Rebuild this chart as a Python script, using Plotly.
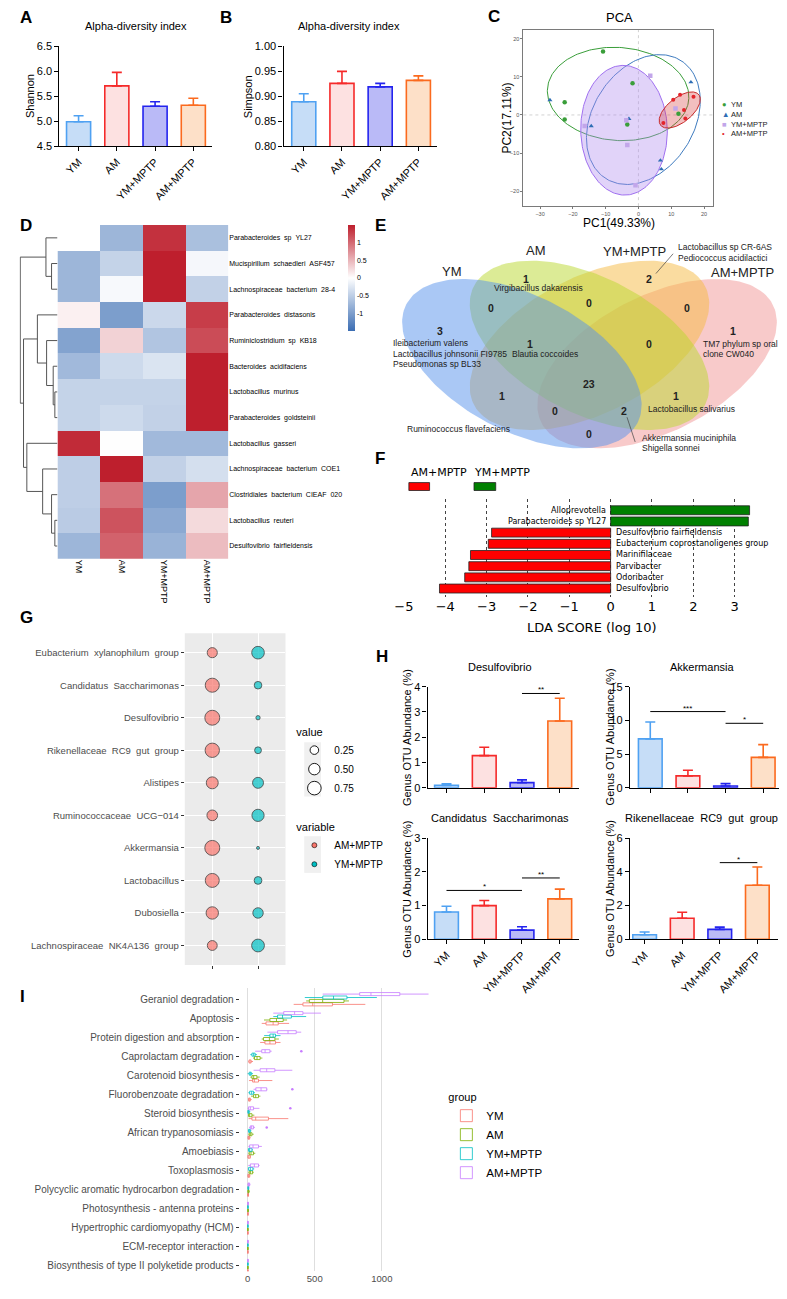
import numpy as np
import plotly.graph_objects as go

W, H = 787, 1299          # browser window
OFF = 8                   # default body margin of the page
PW, PH = W - 2 * OFF, H - 2 * OFF   # figure size that fits the window exactly
ARIAL = "Liberation Sans, Arial, sans-serif"
DEJAVU = "DejaVu Sans, sans-serif"

# ======================= DATA =======================
groups = ["YM", "AM", "YM+MPTP", "AM+MPTP"]

# A / B alpha diversity
shannon_mean = [4.99, 5.71, 5.30, 5.32]
shannon_err = [0.12, 0.27, 0.09, 0.14]
simpson_mean = [0.889, 0.926, 0.919, 0.932]
simpson_err = [0.016, 0.024, 0.007, 0.009]

# C PCA
pca_ym_x = [-10.8, -22.5, -22.5, -1.8, -3.4, 12.2]
pca_ym_y = [16.6, 3.3, -1.2, 8.3, -2.5, 0.3]
pca_am_x = [-27.0, -14.4, -2.9, 16.0, 6.7, 7.0]
pca_am_y = [3.9, -2.9, -1.0, 8.6, -11.9, -14.2]
pca_ymm_x = [3.6, -16.4, -3.7, -3.4, -0.9, 11.3]
pca_ymm_y = [10.3, -2.9, -1.4, -7.9, -18.4, 1.7]
pca_amm_x = [10.6, 12.7, 16.8, 13.9, 14.3, 7.6]
pca_amm_y = [4.0, 5.3, 4.8, 1.3, -0.9, -2.1]
# confidence ellipses: centre x, centre y, semi-major, semi-minor, angle (deg)
pca_ellipses = [(-6.2, 5.5, 21.6, 12.2, -3), (1.5, -1.2, 19.5, 14.5, 43),
                (-4.4, -4.0, 17.0, 13.2, 92), (12.6, 1.3, 7.1, 3.4, 32)]

# D heatmap
heat_rows = ["Parabacteroides sp YL27", "Mucispirillum schaedleri ASF457",
             "Lachnospiraceae bacterium 28-4", "Parabacteroides distasonis",
             "Ruminiclostridium sp KB18", "Bacteroides acidifaciens",
             "Lactobacillus murinus", "Parabacteroides goldsteinii",
             "Lactobacillus gasseri", "Lachnospiraceae bacterium COE1",
             "Clostridiales bacterium CIEAF 020", "Lactobacillus reuteri",
             "Desulfovibrio fairfieldensis"]
heat_z = [[0.00, -0.75, 1.38, -0.65],
          [-0.75, -0.45, 1.50, -0.08],
          [-0.75, -0.06, 1.50, -0.47],
          [0.10, -1.00, -0.40, 1.30],
          [-0.95, 0.30, -0.60, 1.20],
          [-0.72, -0.38, -0.28, 1.50],
          [-0.45, -0.45, -0.45, 1.50],
          [-0.45, -0.38, -0.47, 1.50],
          [1.42, -0.01, -0.72, -0.72],
          [-0.50, 1.50, -0.47, -0.33],
          [-0.50, 0.95, -1.00, 0.60],
          [-0.53, 1.15, -0.88, 0.25],
          [-0.75, 1.05, -0.78, 0.45]]
# hierarchical clustering merges: (node a, node b, height)
dend_merges = [(1, 2, 18), (0, 13, 35), (6, 7, 8), (5, 15, 13), (4, 16, 33),
               (3, 17, 61), (11, 12, 8), (10, 19, 18), (9, 20, 45), (8, 21, 93),
               (18, 22, 103), (14, 23, 113)]

# E Venn
venn_counts = [1, 2, 0, 0, 0, 3, 1, 1, 0, 23, 1, 1, 0, 2, 0]
venn_species = ["Virgibacillus dakarensis", "Lactobacillus sp CR-6AS", "Pediococcus acidilactici",
                "Ileibacterium valens", "Lactobacillus johnsonii FI9785", "Pseudomonas sp BL33",
                "Blautia coccoides", "TM7 phylum sp oral", "clone CW040",
                "Ruminococcus flavefaciens", "Lactobacillus salivarius",
                "Akkermansia muciniphila", "Shigella sonnei"]

# F LEfSe
lda_names = ["Alloprevotella", "Parabacteroides sp YL27", "Desulfovibrio fairfieldensis",
             "Eubacterium coprostanoligenes group", "Marinifilaceae", "Parvibacter",
             "Odoribacter", "Desulfovibrio"]
lda_scores = [3.36, 3.33, -2.88, -2.96, -3.39, -3.43, -3.53, -4.14]
lda_class = ["YM+MPTP", "YM+MPTP", "AM+MPTP", "AM+MPTP", "AM+MPTP", "AM+MPTP", "AM+MPTP", "AM+MPTP"]

# G dot plot
dot_genera = ["Eubacterium xylanophilum group", "Candidatus Saccharimonas", "Desulfovibrio",
              "Rikenellaceae RC9 gut group", "Alistipes", "Ruminococcaceae UCG\u2212014",
              "Akkermansia", "Lactobacillus", "Dubosiella", "Lachnospiraceae NK4A136 group"]
dot_am_mptp = [0.37, 0.81, 0.93, 0.85, 0.55, 0.42, 0.94, 0.80, 0.60, 0.35]
dot_ym_mptp = [0.63, 0.19, 0.07, 0.15, 0.45, 0.58, 0.06, 0.20, 0.40, 0.65]
dot_legend_vals = [0.25, 0.50, 0.75]

# H genus abundance
h_titles = ["Desulfovibrio", "Akkermansia", "Candidatus Saccharimonas", "Rikenellaceae RC9 gut group"]
h_means = [[0.09, 1.27, 0.20, 2.64], [7.25, 1.76, 0.25, 4.50],
           [0.81, 1.00, 0.27, 1.20], [0.27, 1.25, 0.59, 3.21]]
h_errs = [[0.06, 0.33, 0.11, 0.90], [2.50, 0.84, 0.35, 1.90],
          [0.17, 0.15, 0.10, 0.29], [0.16, 0.35, 0.13, 1.08]]
h_sig = [(0, 2, 3, 3.73, "**"), (1, 0, 2, 11.3, "***"), (1, 2, 3, 9.56, "*"),
         (2, 0, 2, 1.45, "*"), (2, 2, 3, 1.82, "**"), (3, 2, 3, 4.55, "*")]

# I KEGG pathways (lower whisker, q1, median, q3, upper whisker)
pathways = ["Geraniol degradation", "Apoptosis", "Protein digestion and absorption",
            "Caprolactam degradation", "Carotenoid biosynthesis", "Fluorobenzoate degradation",
            "Steroid biosynthesis", "African trypanosomiasis", "Amoebiasis", "Toxoplasmosis",
            "Polycyclic aromatic hydrocarbon degradation", "Photosynthesis - antenna proteins",
            "Hypertrophic cardiomyopathy (HCM)", "ECM-receptor interaction",
            "Biosynthesis of type II polyketide products"]
box_ym = [(343, 412, 485, 632, 877), (105, 137, 190, 228, 309), (93, 129, 166, 208, 245),
          (5, 10, 18, 26, 40), (10, 37, 50, 81, 184), (3, 7, 12, 20, 30), (7, 32, 60, 155, 303),
          (1, 3, 8, 15, 22), (1, 2, 8, 20, 25), (0, 2, 6, 15, 20), (0, 1, 3, 6, 10),
          (0, 1, 2, 4, 6), (0, 1, 2, 3, 5), (0, 1, 2, 3, 5), (0, 1, 2, 3, 5)]
box_am = [(436, 460, 559, 718, 755), (122, 166, 215, 265, 294), (105, 118, 162, 203, 233),
          (40, 51, 70, 93, 110), (20, 32, 45, 69, 90), (25, 44, 60, 81, 95), (3, 7, 15, 32, 50),
          (5, 12, 20, 32, 45), (5, 12, 25, 44, 57), (5, 12, 22, 37, 45), (0, 2, 5, 10, 15),
          (0, 1, 3, 5, 8), (0, 1, 2, 3, 5), (0, 1, 2, 3, 5), (0, 1, 2, 3, 5)]
box_ymm = [(426, 560, 640, 740, 963), (191, 223, 260, 326, 436), (123, 166, 190, 208, 245),
           (20, 32, 45, 56, 70), (0, 12, 20, 27, 40), (5, 15, 30, 44, 55), (0, 2, 6, 12, 20),
           (2, 7, 12, 20, 28), (2, 7, 15, 32, 40), (2, 7, 20, 39, 49), (0, 2, 4, 8, 12),
           (0, 1, 2, 4, 6), (0, 1, 2, 3, 5), (0, 1, 2, 3, 5), (0, 1, 2, 3, 5)]
box_amm = [(559, 835, 919, 1134, 1348), (191, 269, 350, 412, 546), (147, 223, 301, 362, 399),
           (56, 105, 130, 166, 179), (44, 93, 142, 203, 333), (44, 61, 100, 142, 147),
           (0, 7, 20, 44, 88), (10, 20, 30, 44, 55), (5, 15, 40, 81, 106), (5, 20, 50, 81, 89),
           (0, 3, 8, 15, 20), (0, 1, 3, 5, 8), (0, 1, 2, 4, 6), (0, 1, 2, 4, 6), (0, 1, 2, 4, 6)]
amm_outliers_path = [3, 5, 6, 7]
amm_outliers_val = [400, 333, 318, 142]

# ======================= STYLE =======================
gp_fill = ["#c6ddf7", "#fde1e1", "#babaf7", "#fde0c8"]
gp_edge = ["#4fa1f2", "#f52a2a", "#2424ee", "#fb6a1e"]
pca_col = ["#3a9e3a", "#2e6db4", "#c2a6ea", "#e3242b"]
pca_sym = ["circle", "triangle-up", "square", "circle"]
pca_glyph = ["\u25cf", "\u25b2", "\u25a0", "\u2022"]
gg_col = ["#F8766D", "#7CAE00", "#00BFC4", "#C77CFF"]


def XP(x):   # page pixel -> paper fraction
    return (x - OFF) / PW


def YP(y):
    return 1 - (y - OFF) / PH


def ws(s):
    return s.replace(" ", "\u00a0\u00a0")


def xr(n):
    return "x" if n == 1 else f"x{n}"


def yr(n):
    return "y" if n == 1 else f"y{n}"


layout = dict(width=PW, height=PH, margin=dict(l=0, r=0, t=0, b=0), paper_bgcolor="white",
              plot_bgcolor="white", font=dict(family=ARIAL, color="black"),
              barmode="overlay", boxmode="overlay", shapes=[], annotations=[])


def add_axes(n, x0, x1, y0, y1, xa, ya):
    kx = "xaxis" if n == 1 else f"xaxis{n}"
    ky = "yaxis" if n == 1 else f"yaxis{n}"
    layout[kx] = dict(domain=[max(XP(x0), 0), min(XP(x1), 1)], anchor=yr(n), **xa)
    layout[ky] = dict(domain=[max(YP(y1), 0), min(YP(y0), 1)], anchor=xr(n), **ya)


def pann(text, x, y, size=11, xanchor="center", yanchor="middle", color="black",
         family=ARIAL, angle=0, align="center"):
    layout["annotations"].append(dict(text=text, x=XP(x), y=YP(y), xref="paper", yref="paper",
                                      showarrow=False, xanchor=xanchor, yanchor=yanchor,
                                      textangle=angle, align=align,
                                      font=dict(size=size, color=color, family=family)))


def prect(x0, x1, y0, y1, fill, line=None, layer="below"):
    layout["shapes"].append(dict(type="rect", xref="paper", yref="paper", x0=XP(x0), x1=XP(x1),
                                 y0=YP(y1), y1=YP(y0), fillcolor=fill, layer=layer,
                                 line=line or dict(width=0)))


traces = []
hidden = dict(visible=False, fixedrange=True)

# ---------------- panel letters ----------------
for lab, x, y in [("A", 8, 12), ("B", 211, 12), ("C", 482, 11), ("D", 8, 222), ("E", 368, 222),
                  ("F", 368, 457), ("G", 8, 617), ("H", 369, 657), ("I", 8, 1000)]:
    pann(f"<b>{lab}</b>", x, y, size=17, xanchor="left")


# ---------------- GraphPad-style bar helper ----------------
def gp_axes(n, box, yrange, dtick, tickfmt, xrange, show_xlabels=True):
    x0, x1, y0, y1 = box
    xa = dict(range=xrange, tickvals=[0, 1, 2, 3], ticktext=groups, showticklabels=show_xlabels,
              tickangle=-45, ticks="outside", ticklen=4, tickwidth=1.3, tickcolor="black",
              showline=True, linecolor="black", linewidth=1.3, showgrid=False, zeroline=False,
              tickfont=dict(size=11, color="black"), fixedrange=True)
    ya = dict(range=yrange, dtick=dtick, tick0=yrange[0], tickformat=tickfmt, ticks="outside",
              ticklen=4, tickwidth=1.3, tickcolor="black", showline=True, linecolor="black",
              linewidth=1.3, showgrid=False, zeroline=False,
              tickfont=dict(size=11, color="black"), fixedrange=True)
    add_axes(n, x0, x1, y0, y1, xa, ya)


def gp_bars(n, means, errs):
    for i in range(4):
        traces.append(go.Bar(x=[i], y=[means[i]], width=0.63, xaxis=xr(n), yaxis=yr(n),
                             marker=dict(color=gp_fill[i], line=dict(color=gp_edge[i], width=1.6)),
                             error_y=dict(type="data", symmetric=False, array=[errs[i]],
                                          arrayminus=[0], color=gp_edge[i], thickness=1.6, width=5),
                             showlegend=False, hoverinfo="skip"))


# A
gp_axes(1, (50, 205, 40.7, 141.5), [4.5, 6.5], 0.5, ".1f", [-0.5, 3.5])
gp_bars(1, shannon_mean, shannon_err)
pann("Alpha-diversity index", 128, 20, size=11)
pann("Shannon", 20, 91, size=11, angle=-90)
# B
gp_axes(2, (277, 433, 40.7, 141.5), [0.8, 1.0], 0.05, ".2f", [-0.53, 3.5])
gp_bars(2, simpson_mean, simpson_err)
pann("Alpha-diversity index", 343, 20, size=11)
pann("Simpson", 241, 91, size=11, angle=-90)

# ---------------- C PCA ----------------
pca_ax = dict(showline=True, mirror=True, linecolor="#7a7a7a", linewidth=1, ticks="outside",
              ticklen=2, tickcolor="#7a7a7a", showgrid=False, zeroline=False,
              tickfont=dict(size=5.5, color="#555"), dtick=10, fixedrange=True)
add_axes(3, 520, 712, 24, 202, dict(range=[-35.1, 22.7], **pca_ax),
         dict(range=[-23.9, 22.3], **pca_ax))
layout["shapes"].append(dict(type="line", xref="x3", yref="y3 domain", x0=0, x1=0, y0=0, y1=1,
                             line=dict(color="#c8c8c8", width=0.8, dash="dot"), layer="below"))
layout["shapes"].append(dict(type="line", xref="x3 domain", yref="y3", x0=0, x1=1, y0=0, y1=0,
                             line=dict(color="#c8c8c8", width=0.8, dash="dot"), layer="below"))
ell_fill = [None, None, "rgba(175,140,240,0.38)", "rgba(215,60,60,0.33)"]
ell_line = ["#3a9e3a", "#3e7bbf", "#a070f0", "#c82a2a"]
t = np.linspace(0, 2 * np.pi, 200)
for k, (cx, cy, a, b, ang) in enumerate(pca_ellipses):
    th = np.deg2rad(ang)
    ex = cx + a * np.cos(t) * np.cos(th) - b * np.sin(t) * np.sin(th)
    ey = cy + a * np.cos(t) * np.sin(th) + b * np.sin(t) * np.cos(th)
    traces.append(go.Scatter(x=ex, y=ey, mode="lines", xaxis="x3", yaxis="y3",
                             line=dict(color=ell_line[k], width=1),
                             fill="toself" if ell_fill[k] else None,
                             fillcolor=ell_fill[k], showlegend=False, hoverinfo="skip"))
for k, (px_, py_) in enumerate([(pca_ym_x, pca_ym_y), (pca_am_x, pca_am_y),
                                (pca_ymm_x, pca_ymm_y), (pca_amm_x, pca_amm_y)]):
    traces.append(go.Scatter(x=px_, y=py_, mode="markers", xaxis="x3", yaxis="y3",
                             marker=dict(color=pca_col[k], symbol=pca_sym[k],
                                         size=4.5 if k != 3 else 4, line=dict(width=0)),
                             showlegend=False, hoverinfo="skip"))
# compact legend for C (one symbol column + one label column)
sym_txt = "<br>".join(f"<span style='color:{pca_col[k]}'>{pca_glyph[k]}</span>" for k in range(4))
pann(sym_txt, 719, 114, size=7.5, xanchor="left", align="left")
pann("<br>".join(groups), 728, 114, size=7.5, xanchor="left", color="#222", align="left")
pann("PCA", 617, 12, size=13)
pann("PC1(49.33%)", 617, 219, size=12)
pann("PC2(17.11%)", 503, 113, size=12, angle=-90)

# ---------------- D heatmap + dendrogram ----------------
heat_scale = [[0.0, "#3b6db3"], [0.5, "#ffffff"], [1.0, "#be1f2d"]]
add_axes(4, 48, 221, 221, 558,
         dict(range=[-0.5, 3.5], tickvals=[0, 1, 2, 3], ticktext=groups, tickangle=90,
              ticks="", showline=False, showgrid=False, zeroline=False,
              tickfont=dict(size=9, color="black"), fixedrange=True),
         dict(range=[12.5, -0.5], tickvals=list(range(13)), ticktext=[ws(r) for r in heat_rows],
              side="right", ticks="", showline=False, showgrid=False, zeroline=False,
              tickfont=dict(size=7, color="black"), fixedrange=True))
traces.append(go.Heatmap(z=heat_z, x=[0, 1, 2, 3], y=list(range(13)), xaxis="x4", yaxis="y4",
                         colorscale=heat_scale, zmin=-1.5, zmax=1.5, hoverinfo="skip",
                         colorbar=dict(x=XP(342), xanchor="left", y=YP(221), yanchor="top",
                                       len=107 / PH, lenmode="fraction", thickness=7,
                                       outlinewidth=0, tickvals=[-1, -0.5, 0, 0.5, 1],
                                       ticktext=["-1", "-0.5", "0", "0.5", "1"], ticks="",
                                       tickfont=dict(size=7, color="black"), ypad=0, xpad=0)))
n_leaf = len(heat_rows)
pos = {i: float(i) for i in range(n_leaf)}
hgt = {i: 0.0 for i in range(n_leaf)}
dxs, dys = [], []
for k, (a, b, h) in enumerate(dend_merges):
    dxs += [hgt[a], h, h, hgt[b], None]
    dys += [pos[a], pos[a], pos[b], pos[b], None]
    pos[n_leaf + k] = (pos[a] + pos[b]) / 2
    hgt[n_leaf + k] = h
add_axes(5, 9.6, 48, 221, 558, dict(range=[115, 0], **hidden), dict(range=[12.5, -0.5], **hidden))
traces.append(go.Scatter(x=dxs, y=dys, mode="lines", xaxis="x5", yaxis="y5",
                         line=dict(color="#555555", width=1), showlegend=False, hoverinfo="skip"))

# ---------------- E Venn ----------------
add_axes(6, 380, 779, 225, 460, dict(range=[380, 779], **hidden), dict(range=[460, 225], **hidden))
venn_centres = [(518.5, 361), (587, 342.5), (587, 342.5), (655.5, 361)]
venn_rot = [-45, -45, 45, 45]
venn_fill = ["rgba(85,145,235,0.5)", "rgba(185,215,45,0.5)", "rgba(245,185,65,0.5)",
             "rgba(241,150,150,0.5)"]
for k in [3, 2, 1, 0]:
    th = np.deg2rad(venn_rot[k])
    u, v = 0.35 * np.cos(t), 0.205 * np.sin(t)
    ex = venn_centres[k][0] + 423 * (u * np.cos(th) - v * np.sin(th))
    ey = venn_centres[k][1] - 298 * (u * np.sin(th) + v * np.cos(th))
    traces.append(go.Scatter(x=ex, y=ey, mode="lines", fill="toself", fillcolor=venn_fill[k],
                             line=dict(width=0), xaxis="x6", yaxis="y6", showlegend=False,
                             hoverinfo="skip"))
for name, x, y in zip(groups, [448, 533, 633, 742], [268, 246.5, 247.5, 268.5]):
    layout["annotations"].append(dict(text=name, x=x, y=y, xref="x6", yref="y6", showarrow=False,
                                      font=dict(size=13, family=ARIAL, color="#222")))
count_pos = [(522.3, 275.7), (647.3, 275.7), (487.7, 304.3), (586.7, 300), (685.7, 304.3),
             (435.7, 328.3), (732.3, 328.3), (526.7, 340.7), (647.3, 340.7), (586.7, 381),
             (498.3, 393.3), (674.3, 393.3), (552.3, 409), (621.7, 409), (586.7, 431.7)]
for c, (x, y) in zip(venn_counts, count_pos):
    layout["annotations"].append(dict(text=f"<b>{c}</b>", x=x, y=y, xref="x6", yref="y6",
                                      showarrow=False, font=dict(size=10.5, family=ARIAL, color="#222")))
species_pos = [(535, 285, "center"), (674.3, 243.3, "left"), (674.3, 254.3, "left"),
               (386, 340.5, "left"), (386, 351, "left"), (386, 361.5, "left"),
               (506, 351, "left"), (700, 340.7, "left"), (700, 351.2, "left"),
               (400, 426.7, "left"), (644.3, 406.7, "left"), (637.7, 435.7, "left"),
               (637.7, 446, "left")]
for s, (x, y, anc) in zip(venn_species, species_pos):
    layout["annotations"].append(dict(text=s, x=x, y=y, xref="x6", yref="y6", showarrow=False,
                                      xanchor=anc, font=dict(size=8.5, family=ARIAL, color="#222")))
for x0, y0, x1, y1 in [(654.3, 270, 671.7, 250), (625, 415, 633.3, 440)]:
    layout["shapes"].append(dict(type="line", xref="x6", yref="y6", x0=x0, y0=y0, x1=x1, y1=y1,
                                 line=dict(color="#444", width=0.7)))

# ---------------- F LEfSe ----------------
f_ticks = list(range(-5, 5))
add_axes(7, 399, 776, 498, 597,
         dict(range=[-5, 4], tickvals=f_ticks,
              ticktext=[("\u2212" + str(-v)) if v < 0 else str(v) for v in f_ticks],
              showgrid=True, gridcolor="#444", gridwidth=0.8, griddash="dot", showline=False,
              zeroline=False, ticks="", tickfont=dict(size=13, family=DEJAVU, color="black"),
              fixedrange=True),
         dict(range=[7.8, -0.97], **hidden))
for cls, col in [("AM+MPTP", "#ff0000"), ("YM+MPTP", "#008000")]:
    idx = [i for i, c in enumerate(lda_class) if c == cls]
    traces.append(go.Bar(x=[lda_scores[i] for i in idx], y=idx, orientation="h", width=0.8,
                         xaxis="x7", yaxis="y7", marker=dict(color=col, line=dict(color="#222", width=0.8)),
                         showlegend=False, hoverinfo="skip"))
for i, (nm, sc) in enumerate(zip(lda_names, lda_scores)):
    layout["annotations"].append(dict(text=nm, x=0, y=i, xref="x7", yref="y7", showarrow=False,
                                      xanchor="right" if sc > 0 else "left",
                                      xshift=-3 if sc > 0 else 3,
                                      font=dict(size=8, family=DEJAVU, color="black")))
pann("LDA SCORE (log 10)", 590, 627, size=13, family=DEJAVU)
pann("AM+MPTP", 404, 471, size=11, xanchor="left", family=DEJAVU)
pann("YM+MPTP", 468, 471, size=11, xanchor="left", family=DEJAVU)
for x0, x1, col in [(404, 425, "#ff0000"), (470, 492, "#008000")]:
    prect(x0, x1, 481, 489, col, line=dict(color="#222", width=0.8), layer="above")

# ---------------- G dot plot ----------------
add_axes(8, 177, 279, 633, 968,
         dict(range=[-0.6, 1.6], tickvals=[0, 1], showticklabels=False, ticks="outside", ticklen=3,
              tickcolor="#333", showgrid=True, gridcolor="white", gridwidth=1, showline=False,
              zeroline=False, fixedrange=True),
         dict(range=[9.6, -0.6], tickvals=list(range(10)), ticktext=[ws(g) for g in dot_genera],
              ticks="outside", ticklen=3, tickcolor="#333", showgrid=True, gridcolor="white",
              gridwidth=1, showline=False, zeroline=False,
              tickfont=dict(size=9.5, color="#4d4d4d"), fixedrange=True))
layout["shapes"].append(dict(type="rect", xref="x8 domain", yref="y8 domain", x0=0, x1=1, y0=0,
                             y1=1, fillcolor="#ebebeb", line=dict(width=0), layer="below"))
# grey legend-key backgrounds (ggplot style)
prect(298, 315, 743, 798, "#f0f0f0")
prect(298, 315, 838, 875, "#f0f0f0")
all_vals = dot_am_mptp + dot_ym_mptp
vmin, vmax = min(all_vals), max(all_vals)


def dsize(v):
    return 3 + 12 * np.sqrt(max(v - vmin, 0) / (vmax - vmin))


for j, (vals, col, nm) in enumerate([(dot_am_mptp, "#F8766D", "AM+MPTP"),
                                     (dot_ym_mptp, "#00BFC4", "YM+MPTP")]):
    traces.append(go.Scatter(x=[j] * len(vals), y=list(range(len(vals))), mode="markers",
                             xaxis="x8", yaxis="y8", showlegend=False, hoverinfo="skip",
                             marker=dict(color=col, size=[dsize(v) for v in vals],
                                         line=dict(color="black", width=0.8))))
    traces.append(go.Scatter(x=[None], y=[None], mode="markers", xaxis="x8", yaxis="y8",
                             name=nm, legend="legend2",
                             marker=dict(color=col, size=5, line=dict(color="black", width=0.6))))
for v in dot_legend_vals:
    traces.append(go.Scatter(x=[None], y=[None], mode="markers", xaxis="x8", yaxis="y8",
                             name=f"{v:.2f}", legend="legend",
                             marker=dict(color="white", size=dsize(v),
                                         line=dict(color="black", width=0.9))))

# ---------------- H genus bars ----------------
h_boxes = [(423, 576, 687, 789), (628, 779, 687, 789), (423, 576, 840, 942), (628, 778, 840, 942)]
h_xr = [[-0.5, 3.5], [-0.54, 3.42], [-0.5, 3.5], [-0.39, 3.55]]
h_yr = [[0, 4], [0, 15], [0, 3], [0, 6]]
h_dt = [1, 5, 1, 2]
h_ytitle_x = [402, 608, 402, 608]
for p in range(4):
    n = 9 + p
    gp_axes(n, h_boxes[p], h_yr[p], h_dt[p], "d", h_xr[p], show_xlabels=(p >= 2))
    gp_bars(n, h_means[p], h_errs[p])
    x0, x1, y0, y1 = h_boxes[p]
    pann(ws(h_titles[p]), (x0 + x1) / 2 - 3, y0 - 20, size=11)
    pann("Genus OTU Abundance (%)", h_ytitle_x[p], (y0 + y1) / 2, size=11, angle=-90)
for p, i, j, yv, lab in h_sig:
    n = 9 + p
    layout["shapes"].append(dict(type="line", xref=xr(n), yref=yr(n), x0=i, x1=j, y0=yv, y1=yv,
                                 line=dict(color="black", width=1)))
    layout["annotations"].append(dict(text=lab, x=(i + j) / 2, y=yv, xref=xr(n), yref=yr(n),
                                      showarrow=False, yanchor="bottom", yshift=-3,
                                      font=dict(size=8, color="black")))

# ---------------- I boxplots ----------------
add_axes(13, 232.5, 431, 991, 1277,
         dict(range=[-60, 1400], tickvals=[0, 500, 1000], showgrid=True, gridcolor="#dedede",
              gridwidth=1, showline=False, zeroline=False, ticks="",
              tickfont=dict(size=9.5, color="#4d4d4d"), fixedrange=True),
         dict(range=[14.28, -0.6], tickvals=list(range(15)), ticktext=pathways, ticks="outside",
              ticklen=3, tickcolor="#333", showgrid=False, showline=False, zeroline=False,
              tickfont=dict(size=10, color="#4d4d4d"), fixedrange=True))
offsets = [0.27, 0.09, -0.09, -0.27]
for g, (data, col) in enumerate(zip([box_ym, box_am, box_ymm, box_amm], gg_col)):
    ys = [r + offsets[g] for r in range(len(pathways))]
    traces.append(go.Box(y=ys, lowerfence=[d[0] for d in data], q1=[d[1] for d in data],
                         median=[d[2] for d in data], q3=[d[3] for d in data],
                         upperfence=[d[4] for d in data], orientation="h", width=0.16,
                         whiskerwidth=0, line=dict(color=col, width=0.8),
                         fillcolor="rgba(255,255,255,0)", xaxis="x13", yaxis="y13",
                         name=groups[g], legend="legend4", hoverinfo="skip"))
traces.append(go.Scatter(x=amm_outliers_val, y=[r + offsets[3] for r in amm_outliers_path],
                         mode="markers", marker=dict(color=gg_col[3], size=2.5),
                         xaxis="x13", yaxis="y13", showlegend=False, hoverinfo="skip"))

# ---------------- legends ----------------
layout["legend"] = dict(x=XP(288), y=YP(722), xanchor="left", yanchor="top",
                        title=dict(text="value", font=dict(size=11)), font=dict(size=10),
                        itemsizing="trace", bgcolor="rgba(0,0,0,0)", tracegroupgap=0)
layout["legend2"] = dict(x=XP(288), y=YP(818), xanchor="left", yanchor="top",
                         title=dict(text="variable", font=dict(size=11)), font=dict(size=10),
                         itemsizing="trace", bgcolor="rgba(0,0,0,0)")
layout["legend4"] = dict(x=XP(442), y=YP(1091), xanchor="left", yanchor="top",
                         title=dict(text="group", font=dict(size=11)), font=dict(size=11.5),
                         bgcolor="rgba(0,0,0,0)")

fig = go.Figure(data=traces, layout=layout)
fig.write_html("out.html", config={"displayModeBar": False})
